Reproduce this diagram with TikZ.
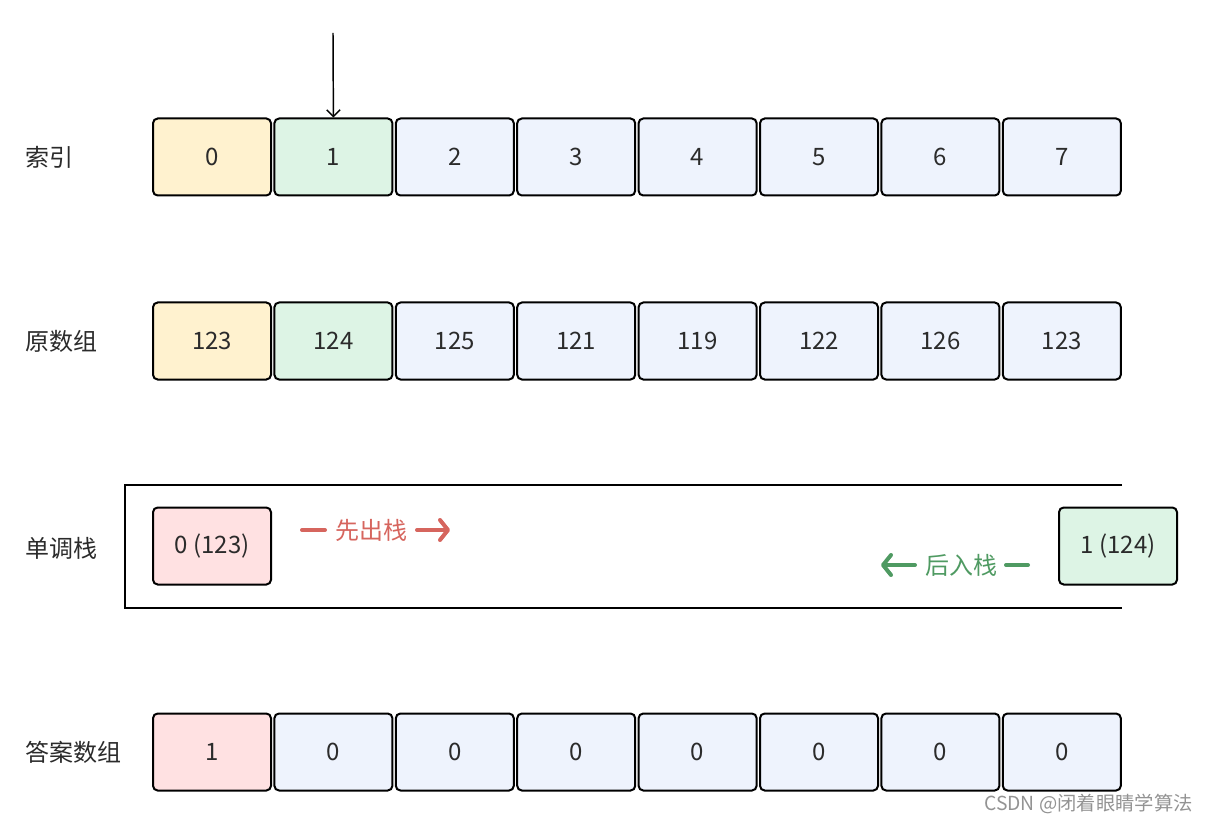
\documentclass[tikz,border=0pt]{standalone}
\usepackage{fontspec}
\setmainfont{Noto Sans CJK SC}
\usetikzlibrary{arrows.meta, positioning}

\definecolor{idxyellow}{HTML}{FFF2CF}
\definecolor{curgreen}{HTML}{DDF4E5}
\definecolor{cellblue}{HTML}{EEF3FD}
\definecolor{popred}{HTML}{FFE1E2}
\definecolor{popline}{HTML}{D6655E}
\definecolor{pushline}{HTML}{4F9A62}
\definecolor{inktext}{HTML}{2B2B2B}

\begin{document}
\begin{tikzpicture}[
    x=0.75pt, y=-0.75pt,
    font=\fontsize{18}{21}\selectfont,
    every node/.style={align=center, text=inktext},
    cell/.style={draw, line width=1.5pt, rounded corners=3.5pt,
                 minimum width=88.5pt, minimum height=57.75pt, inner sep=0pt},
    rowlabel/.style={anchor=west, inner xsep=0pt},
    stackline/.style={line width=1.5pt},
    popmark/.style={popline, line width=3pt, line cap=round},
    pushmark/.style={pushline, line width=3pt, line cap=round},
    chevron/.style={-{Straight Barb[length=6pt, width=15pt, round]}}
]
\useasboundingbox (0,0) rectangle (1209,823);

%-------------------------------
% 1) Index row
%-------------------------------
\node[rowlabel] (idxlabel) at (25,157) {索引};
\foreach \v/\c [count=\i from 0] in
    {0/idxyellow,1/curgreen,2/cellblue,3/cellblue,4/cellblue,5/cellblue,6/cellblue,7/cellblue}
  \node[cell, fill=\c] (idx\i) at ({212+121.4*\i},157) {\v};

% pointer to the current index
\coordinate (ptr) at (333,33);
\draw[-{Straight Barb[length=5pt, width=10pt]}, line width=1.1pt] (ptr) -- (idx1.north);

%-------------------------------
% 2) Original array
%-------------------------------
\node[rowlabel] (numlabel) at (25,341) {原数组};
\foreach \v/\c [count=\i from 0] in
    {123/idxyellow,124/curgreen,125/cellblue,121/cellblue,119/cellblue,122/cellblue,126/cellblue,123/cellblue}
  \node[cell, fill=\c] (num\i) at ({212+121.4*\i},341) {\v};

%-------------------------------
% 3) Monotonic stack
%-------------------------------
\node[rowlabel] (stklabel) at (25,548) {单调栈};
\draw[stackline] (1122,485) -- (125,485) -- (125,608) -- (1122,608);

\node[cell, fill=popred] (stkbottom) at (212,546) {0 (123)};
\node[cell, fill=curgreen] (stktop) at (1118,546) {1 (124)};

% pop first (red)
\node[text=popline] (poptxt) at (371,530) {先出栈};
\coordinate (popA) at (302,530);
\coordinate (popB) at (325,530);
\coordinate (popC) at (417,530);
\coordinate (popD) at (450,530);
\draw[popmark] (popA) -- (popB);
\draw[popmark, chevron] (popC) -- (popD);

% push after (green)
\node[text=pushline] (pushtxt) at (961,565) {后入栈};
\coordinate (pushA) at (915,565);
\coordinate (pushB) at (881,565);
\coordinate (pushC) at (1006,565);
\coordinate (pushD) at (1028,565);
\draw[pushmark, chevron] (pushA) -- (pushB);
\draw[pushmark] (pushC) -- (pushD);

%-------------------------------
% 4) Answer array
%-------------------------------
\node[rowlabel] (anslabel) at (25,752) {答案数组};
\foreach \v/\c [count=\i from 0] in
    {1/popred,0/cellblue,0/cellblue,0/cellblue,0/cellblue,0/cellblue,0/cellblue,0/cellblue}
  \node[cell, fill=\c] (ans\i) at ({212+121.4*\i},752) {\v};

% watermark
\node[anchor=east, inner xsep=0pt, text=gray!85, font=\fontsize{14.5}{17}\selectfont] (mark) at (1193,804)
    {CSDN @闭着眼睛学算法};

\end{tikzpicture}
\end{document}
